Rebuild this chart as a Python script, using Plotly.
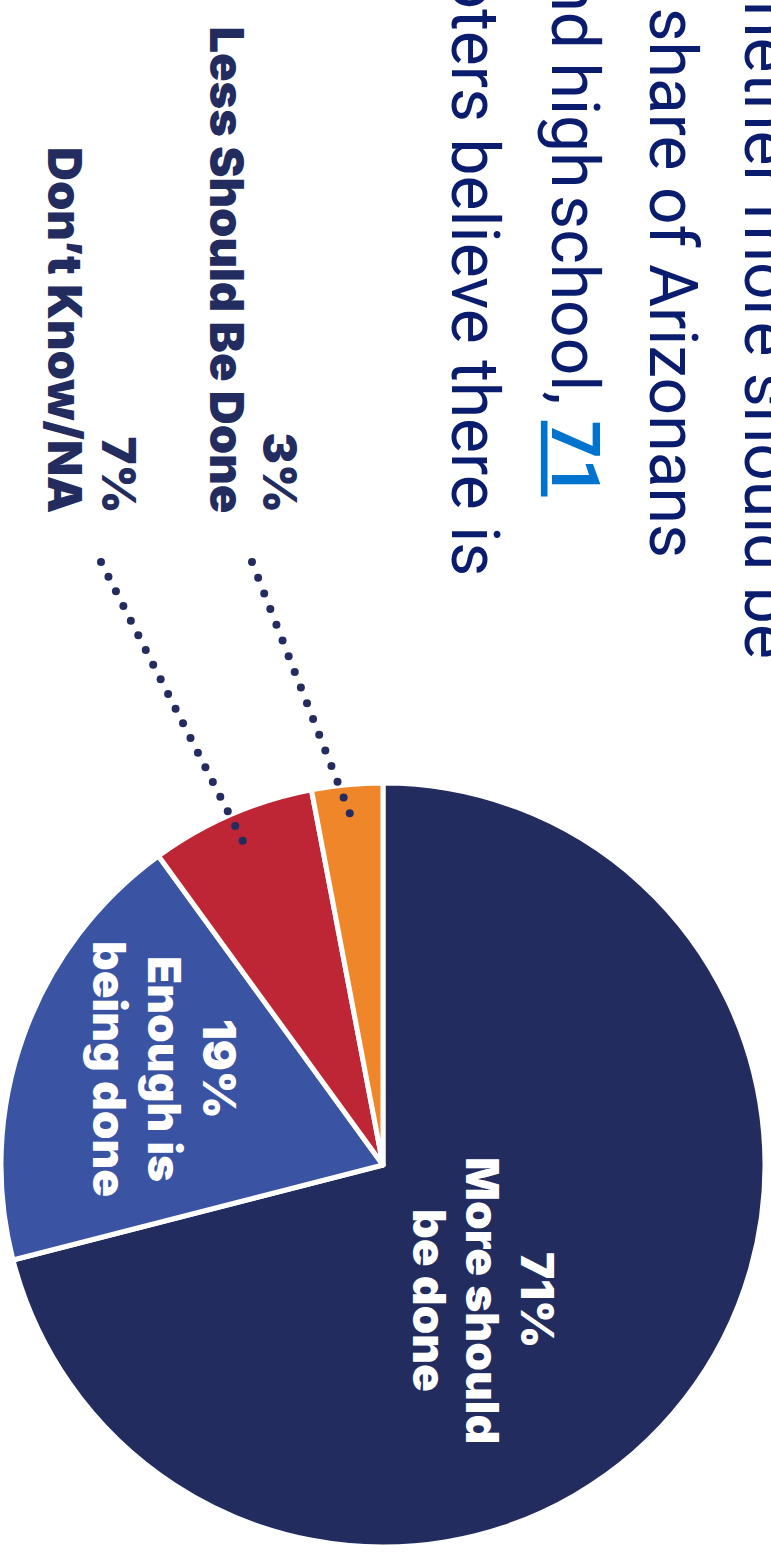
import math
import plotly.graph_objects as go

# Survey responses (percent of voters)
categories = ["More should be done", "Enough is being done", "Don’t Know/NA", "Less Should Be Done"]
shares = [71, 19, 7, 3]
slice_colors = ["#222c5e", "#3a53a3", "#be2535", "#f0862a"]

# Labels written inside the two large slices
inside_lines = {
    0: ["More should", "be done"],
    1: ["Enough is", "being done"],
}
# Labels written outside for the two small slices
outside_names = {2: "Don’t Know/NA", 3: "Less Should Be Done"}

# Paragraph lines running beside the chart (justified text, so some
# word gaps are narrower than a normal space)
intro_lines = [
    "whether more should be",
    "share of Arizonans",
    "and\u2009high\u200aschool, ",
    "voters believe there is",
]

W, H = 771, 1555
NAVY_TEXT = "#0a1c6e"
LINK_BLUE = "#0073cf"
LABEL_NAVY = "#232c5e"
BOLD_FONT = "Inter"
BOLD_WEIGHT = 900
INSIDE_SIZE = 46
OUTSIDE_SIZE = 47

# Pie geometry in page pixels
CX, CY, R = 383, 1165, 382


def px(x):
    return x / W


def py(y):
    return 1 - y / H


fig = go.Figure()
fig.add_trace(go.Pie(
    labels=categories,
    values=shares,
    sort=False,
    direction="clockwise",
    rotation=0,
    marker=dict(colors=slice_colors, line=dict(color="white", width=5)),
    textinfo="none",
    hoverinfo="skip",
    showlegend=False,
    domain=dict(x=[px(CX - R), px(CX + R)], y=[py(CY + R), py(CY - R)]),
))

annotations = []

# Paragraph text (rotated, one column per line)
intro_x = [767, 672, 574, 475]
intro_end_y = [659, 559, 497, 577]
for i, line in enumerate(intro_lines):
    text = line
    if i == 2:
        text = line + f"<span style='color:{LINK_BLUE}'><b><u>{shares[0]}</u></b></span>"
    annotations.append(dict(
        x=px(intro_x[i]), y=py(intro_end_y[i]), xref="paper", yref="paper",
        text=text, showarrow=False, textangle=90,
        xanchor="center", yanchor="bottom", borderpad=0,
        font=dict(family="Roboto", size=66, color=NAVY_TEXT),
    ))

# Inside labels: percentage then the category name
inside_pos = {0: ([538, 483, 430], 1300), 1: ([220, 165, 110], 1069)}
for idx, lines in inside_lines.items():
    xs, yc = inside_pos[idx]
    for j, t in enumerate([f"{shares[idx]}%"] + lines):
        annotations.append(dict(
            x=px(xs[j]), y=py(yc), xref="paper", yref="paper",
            text=t, showarrow=False, textangle=90,
            xanchor="center", yanchor="middle", borderpad=0,
            font=dict(family=BOLD_FONT, size=INSIDE_SIZE, color="white", weight=BOLD_WEIGHT),
        ))

# Outside labels, right-aligned at a common end
outside_pos = {3: (280, 227), 2: (119, 66)}
for idx, (x_pct, x_name) in outside_pos.items():
    for xx, t in [(x_pct, f"{shares[idx]}%"), (x_name, outside_names[idx])]:
        annotations.append(dict(
            x=px(xx), y=py(514), xref="paper", yref="paper",
            text=t, showarrow=False, textangle=90,
            xanchor="center", yanchor="bottom", borderpad=0,
            font=dict(family=BOLD_FONT, size=OUTSIDE_SIZE, color=LABEL_NAVY, weight=BOLD_WEIGHT),
        ))

# Dotted leaders from the outside labels into the small slices
shapes = []
leader_start = {3: (252, 562), 2: (101, 562)}
cum = 0
mid_angle = {}
for i, v in enumerate(shares):
    mid_angle[i] = (cum + v / 2) / 100 * 360
    cum += v
DOT = 8
STEP = 16.4
for idx, (sx, sy) in leader_start.items():
    a = math.radians(mid_angle[idx])
    ex = CX + 0.925 * R * math.sin(a)
    ey = CY - 0.925 * R * math.cos(a)
    length = math.hypot(ex - sx, ey - sy)
    n = int(round(length / STEP))
    for k in range(n + 1):
        t = k / n
        dx = sx + (ex - sx) * t
        dy = sy + (ey - sy) * t
        shapes.append(dict(
            type="circle", xref="paper", yref="paper", layer="above",
            x0=px(dx - DOT / 2), x1=px(dx + DOT / 2),
            y0=py(dy + DOT / 2), y1=py(dy - DOT / 2),
            fillcolor=LABEL_NAVY, line=dict(width=0),
        ))

fig.update_layout(
    width=W, height=H,
    margin=dict(l=0, r=0, t=0, b=0),
    paper_bgcolor="white",
    plot_bgcolor="white",
    annotations=annotations,
    shapes=shapes,
)

fig.write_html("out.html", config={"displayModeBar": False})
